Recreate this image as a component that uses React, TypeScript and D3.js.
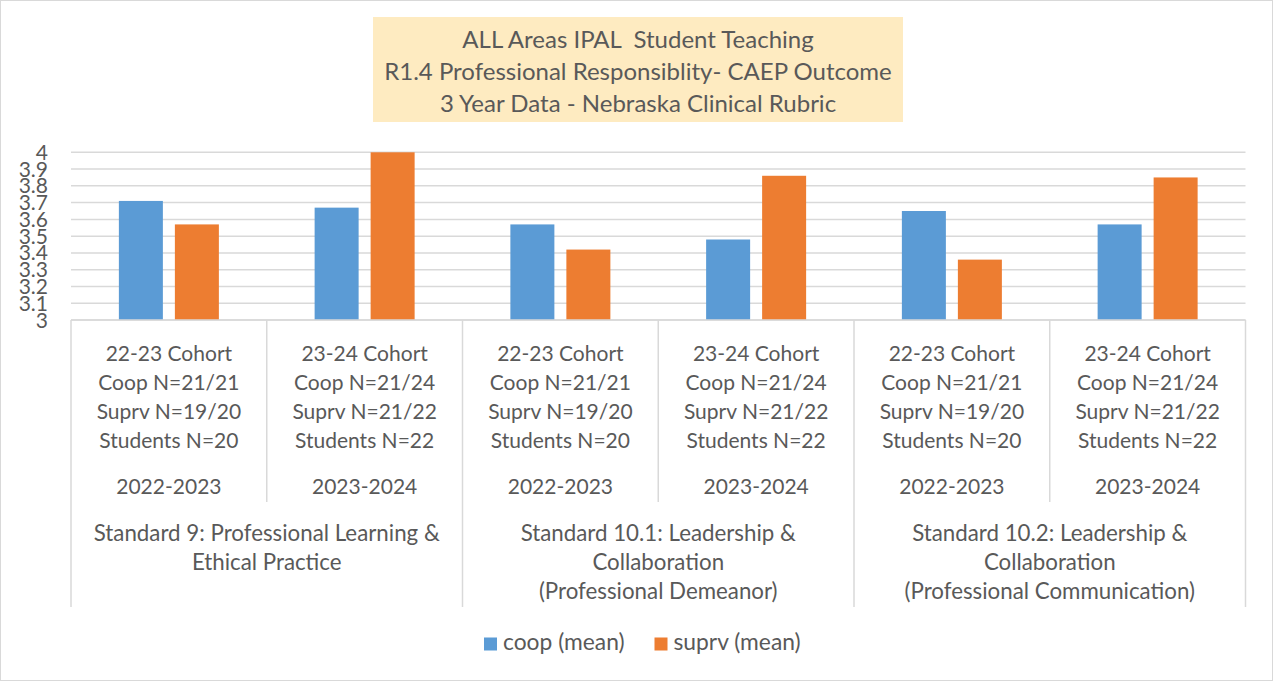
import React from "react";
import * as d3 from "d3";

const titleLines = [
  "ALL Areas IPAL  Student Teaching",
  "R1.4 Professional Responsiblity- CAEP Outcome",
  "3 Year Data - Nebraska Clinical Rubric",
];

const cohortLabels = [
  ["22-23 Cohort", "Coop N=21/21", "Suprv N=19/20", "Students N=20"],
  ["23-24 Cohort", "Coop N=21/24", "Suprv N=21/22", "Students N=22"],
  ["22-23 Cohort", "Coop N=21/21", "Suprv N=19/20", "Students N=20"],
  ["23-24 Cohort", "Coop N=21/24", "Suprv N=21/22", "Students N=22"],
  ["22-23 Cohort", "Coop N=21/21", "Suprv N=19/20", "Students N=20"],
  ["23-24 Cohort", "Coop N=21/24", "Suprv N=21/22", "Students N=22"],
];

const yearLabels = ["2022-2023", "2023-2024", "2022-2023", "2023-2024", "2022-2023", "2023-2024"];

const standardLabels = [
  ["Standard 9: Professional Learning &", "Ethical Practice"],
  ["Standard 10.1: Leadership &", "Collaboration", "(Professional Demeanor)"],
  ["Standard 10.2: Leadership &", "Collaboration", "(Professional Communication)"],
];

const seriesNames = ["coop (mean)", "suprv (mean)"];
const coopMeans = [3.71, 3.67, 3.57, 3.48, 3.65, 3.57];
const suprvMeans = [3.57, 4.0, 3.42, 3.86, 3.36, 3.85];

const yTickValues = [3, 3.1, 3.2, 3.3, 3.4, 3.5, 3.6, 3.7, 3.8, 3.9, 4];

const W = 1273;
const H = 681;
const colors = ["#5B9BD5", "#ED7D31"];
const textColor = "#595959";
const gridColor = "#D9D9D9";
const font = "Lato, 'Open Sans', sans-serif";

export default function App() {
  const plotLeft = 71;
  const plotRight = 1245.5;
  const plotTop = 152.3;
  const plotBottom = 320;

  const idx = d3.range(coopMeans.length).map(String);
  const x0 = d3.scaleBand<string>().domain(idx).range([plotLeft, plotRight]).paddingInner(0).paddingOuter(0);
  const x1 = d3.scaleBand<string>().domain(["0", "1"]).range([-50, 50]).paddingInner(12 / 56).paddingOuter(0);
  const y = d3.scaleLinear().domain([3, 4]).range([plotBottom, plotTop]);

  const series = [coopMeans, suprvMeans];
  const step = x0.step();

  const level0Baselines = [360.5, 389.5, 418.5, 447.5];
  const yearBaseline = 494;
  const stdBaselines = [541, 570, 599];

  const groupSize = 2;
  const groups = d3.range(standardLabels.length);

  return (
    <svg
      width={W}
      height={H}
      style={{ position: "absolute", left: 0, top: 0, background: "#fff" }}
      fontFamily={font}
    >
      <rect x={0.5} y={0.5} width={W - 1} height={H - 1} fill="#fff" stroke={gridColor} strokeWidth={1} />

      {/* title */}
      <rect x={373} y={17} width={530} height={105} fill="#FEEBC1" />
      {titleLines.map((t, i) => (
        <text
          key={i}
          x={638}
          y={48.3 + i * 31.7}
          textAnchor="middle"
          fontSize={24}
          fill={textColor}
          style={{ whiteSpace: "pre" }}
        >
          {t}
        </text>
      ))}

      {/* gridlines */}
      {yTickValues.map((v, i) => (
        <line key={i} x1={plotLeft} x2={plotRight} y1={y(v)} y2={y(v)} stroke={gridColor} strokeWidth={1.5} />
      ))}

      {/* y labels */}
      {yTickValues.map((v, i) => (
        <text key={i} x={48} y={y(v)} dy="0.36em" textAnchor="end" fontSize={21} fill={textColor}>
          {String(v)}
        </text>
      ))}

      {/* bars */}
      {series.map((vals, s) =>
        vals.map((v, i) => {
          const cx = (x0(String(i)) as number) + step / 2;
          const bx = cx + (x1(String(s)) as number);
          return (
            <rect key={`${s}-${i}`} x={bx} y={y(v)} width={x1.bandwidth()} height={y(3) - y(v)} fill={colors[s]} />
          );
        })
      )}

      {/* category axis lines */}
      <line x1={plotLeft} x2={plotRight} y1={plotBottom} y2={plotBottom} stroke={gridColor} strokeWidth={1.5} />
      {d3.range(coopMeans.length + 1).map((i) => {
        const xx = plotLeft + i * step;
        const isGroup = i % groupSize === 0;
        return (
          <line key={i} x1={xx} x2={xx} y1={plotBottom} y2={isGroup ? 607 : 502} stroke={gridColor} strokeWidth={1.5} />
        );
      })}

      {/* level 0 labels */}
      {cohortLabels.map((lines, i) => {
        const cx = (x0(String(i)) as number) + step / 2;
        return (
          <g key={i}>
            {lines.map((t, j) => (
              <text key={j} x={cx} y={level0Baselines[j]} textAnchor="middle" fontSize={21} fill={textColor}>
                {t}
              </text>
            ))}
            <text x={cx} y={yearBaseline} textAnchor="middle" fontSize={21} fill={textColor}>
              {yearLabels[i]}
            </text>
          </g>
        );
      })}

      {/* level 1 labels */}
      {groups.map((g) => {
        const cx = plotLeft + (g * groupSize + groupSize / 2) * step;
        return (
          <g key={g}>
            {standardLabels[g].map((t, j) => (
              <text key={j} x={cx} y={stdBaselines[j]} textAnchor="middle" fontSize={22.3} fill={textColor}>
                {t}
              </text>
            ))}
          </g>
        );
      })}

      {/* legend */}
      {seriesNames.map((n, i) => {
        const lx = [484, 654.5][i];
        return (
          <g key={i}>
            <rect x={lx} y={637.5} width={13} height={13} fill={colors[i]} />
            <text x={lx + 19} y={650} fontSize={22.8} fill={textColor}>
              {n}
            </text>
          </g>
        );
      })}
    </svg>
  );
}
